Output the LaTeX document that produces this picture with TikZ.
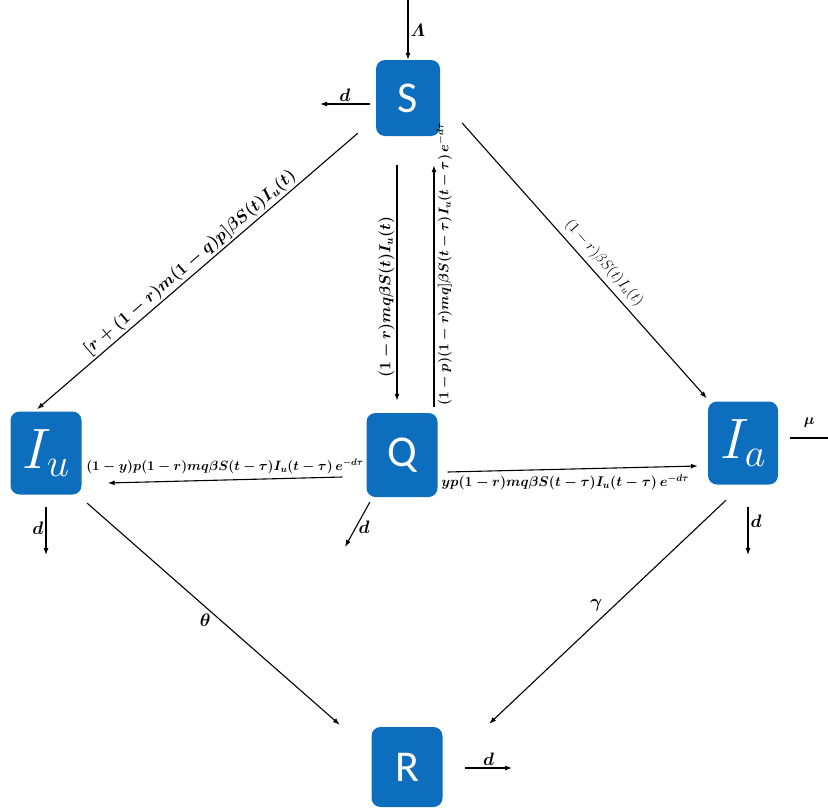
\documentclass[tikz,border=0pt]{standalone}
\usepackage{fix-cm}
\usepackage{amsmath}
\usepackage{fontspec}
\newfontfamily\boxfont{Carlito}
\usetikzlibrary{arrows.meta}
\definecolor{boxblue}{RGB}{13,110,190}
\begin{document}
\begin{tikzpicture}[x=1pt,y=-1pt,
  comp/.style={fill=boxblue, rounded corners=9pt, minimum width=71pt,
    minimum height=83pt, inner sep=0pt, text=white},
  letter/.style={comp, font=\boxfont\fontsize{44}{44}\selectfont},
  italicbox/.style={comp, font=\fontsize{57}{57}\selectfont},
  flow/.style={-{Latex[length=7pt,width=5pt]}, line width=1.1pt},
  plain/.style={line width=1.1pt},
  rate/.style={font=\fontsize{14}{14}\selectfont\boldmath, inner sep=2pt},
  sym/.style={font=\fontsize{18}{18}\selectfont\boldmath, inner sep=2pt},
]
\useasboundingbox (0,0) rectangle (828,809);

% compartments
\node[letter, minimum width=64pt, minimum height=76pt] (S) at (408,98) {S};
\node[letter, minimum height=84pt] (Q) at (402,455) {Q};
\node[italicbox] (Iu) at (46,453) {$I_u$};
\node[italicbox, minimum width=70pt] (Ia) at (743,443) {$I_a$};
\node[letter, minimum height=80pt] (R) at (407,767) {R};

% free ends of inflow / outflow arrows
\coordinate (lamSrc) at (408,0);
\coordinate (dS) at (320,104);
\coordinate (dQ) at (345,547);
\coordinate (dIu) at (46,555);
\coordinate (dIa) at (748,555);
\coordinate (muOut) at (828,438);
\coordinate (dR) at (512,768);

% recruitment and natural death
\draw[flow] (lamSrc) -- (S.north) node[sym, right, midway] (lLam) {$\varLambda$};
\draw[flow] ([shift={(-6,6)}]S.west) -- (dS) node[sym, above, midway] (ldS) {$d$};

% infection flows out of S
\draw[flow] ([shift={(-18,-3)}]S.south west) -- ([shift={(-9,-2)}]Iu.north)
  node[rate, font=\fontsize{17}{17}\selectfont\boldmath, sloped, above, pos=0.5] (lSIu)
  {$[r+(1-r)m(1-q)p]\beta S(t)I_u(t)$};
\draw[flow] ([shift={(-11,29)}]S.south) -- ([shift={(-5,-12)}]Q.north)
  node[rate, font=\fontsize{16}{16}\selectfont\boldmath, rotate=90, anchor=south, pos=0.56] (lSQ)
  {$(1-r)mq\beta S(t)I_u(t)$};
\draw[flow] ([shift={(32,-6)}]Q.north) -- ([shift={(26,29)}]S.south)
  node[rate, sloped, below, pos=0.59] (lQS)
  {$(1-p)(1-r)mq]\beta S(t-\tau)I_u(t-\tau)\,e^{-d\tau}$};
\draw[flow] ([shift={(22,25)}]S.east) -- ([shift={(-1,-3)}]Ia.north west)
  node[font=\fontsize{15}{15}\selectfont, inner sep=2pt, sloped, above=3pt, pos=0.54] (lSIa)
  {$(1-r)\beta S(t)I_u(t)$};

% flows out of Q
\draw[flow] ([shift={(-24,22)}]Q.west) -- ([shift={(26,30)}]Iu.east)
  node[rate, font=\fontsize{13.5}{13.5}\selectfont\boldmath, above=4pt, pos=0.5] (lQIu)
  {$(1-y)p(1-r)mq\beta S(t-\tau)I_u(t-\tau)\,e^{-d\tau}$};
\draw[flow] ([shift={(10,17)}]Q.east) -- ([shift={(-10,23)}]Ia.west)
  node[rate, below=3pt, pos=0.47] (lQIa)
  {$yp(1-r)mq\beta S(t-\tau)I_u(t-\tau)\,e^{-d\tau}$};
\draw[flow] ([shift={(3.5,5)}]Q.south west) -- (dQ) node[sym, right, pos=0.55] (ldQ) {$d$};

% deaths of the infected
\draw[flow] ([shift={(0,12.5)}]Iu.south) -- (dIu) node[sym, left, pos=0.45] (ldIu) {$d$};
\draw[flow] ([shift={(5,22)}]Ia.south) -- (dIa) node[sym, right, pos=0.3] (ldIa) {$d$};
\draw[plain] ([shift={(12,-5)}]Ia.east) -- (muOut)
  node[sym, font=\fontsize{15}{15}\selectfont\boldmath, above=8pt, pos=0.5] (lmu) {$\mu$};

% recovery
\draw[flow] ([shift={(5.5,8.5)}]Iu.south east) -- ([shift={(-31.5,-2)}]R.north west)
  node[sym, left=8pt, pos=0.53] (ltheta) {$\theta$};
\draw[flow] ([shift={(-17,15.5)}]Ia.south) -- ([shift={(46.5,-3)}]R.north east)
  node[sym, left=10pt, pos=0.47] (lgamma) {$\gamma$};
\draw[flow] ([shift={(22.5,1)}]R.east) -- (dR) node[sym, above, midway] (ldR) {$d$};
\end{tikzpicture}
\end{document}
